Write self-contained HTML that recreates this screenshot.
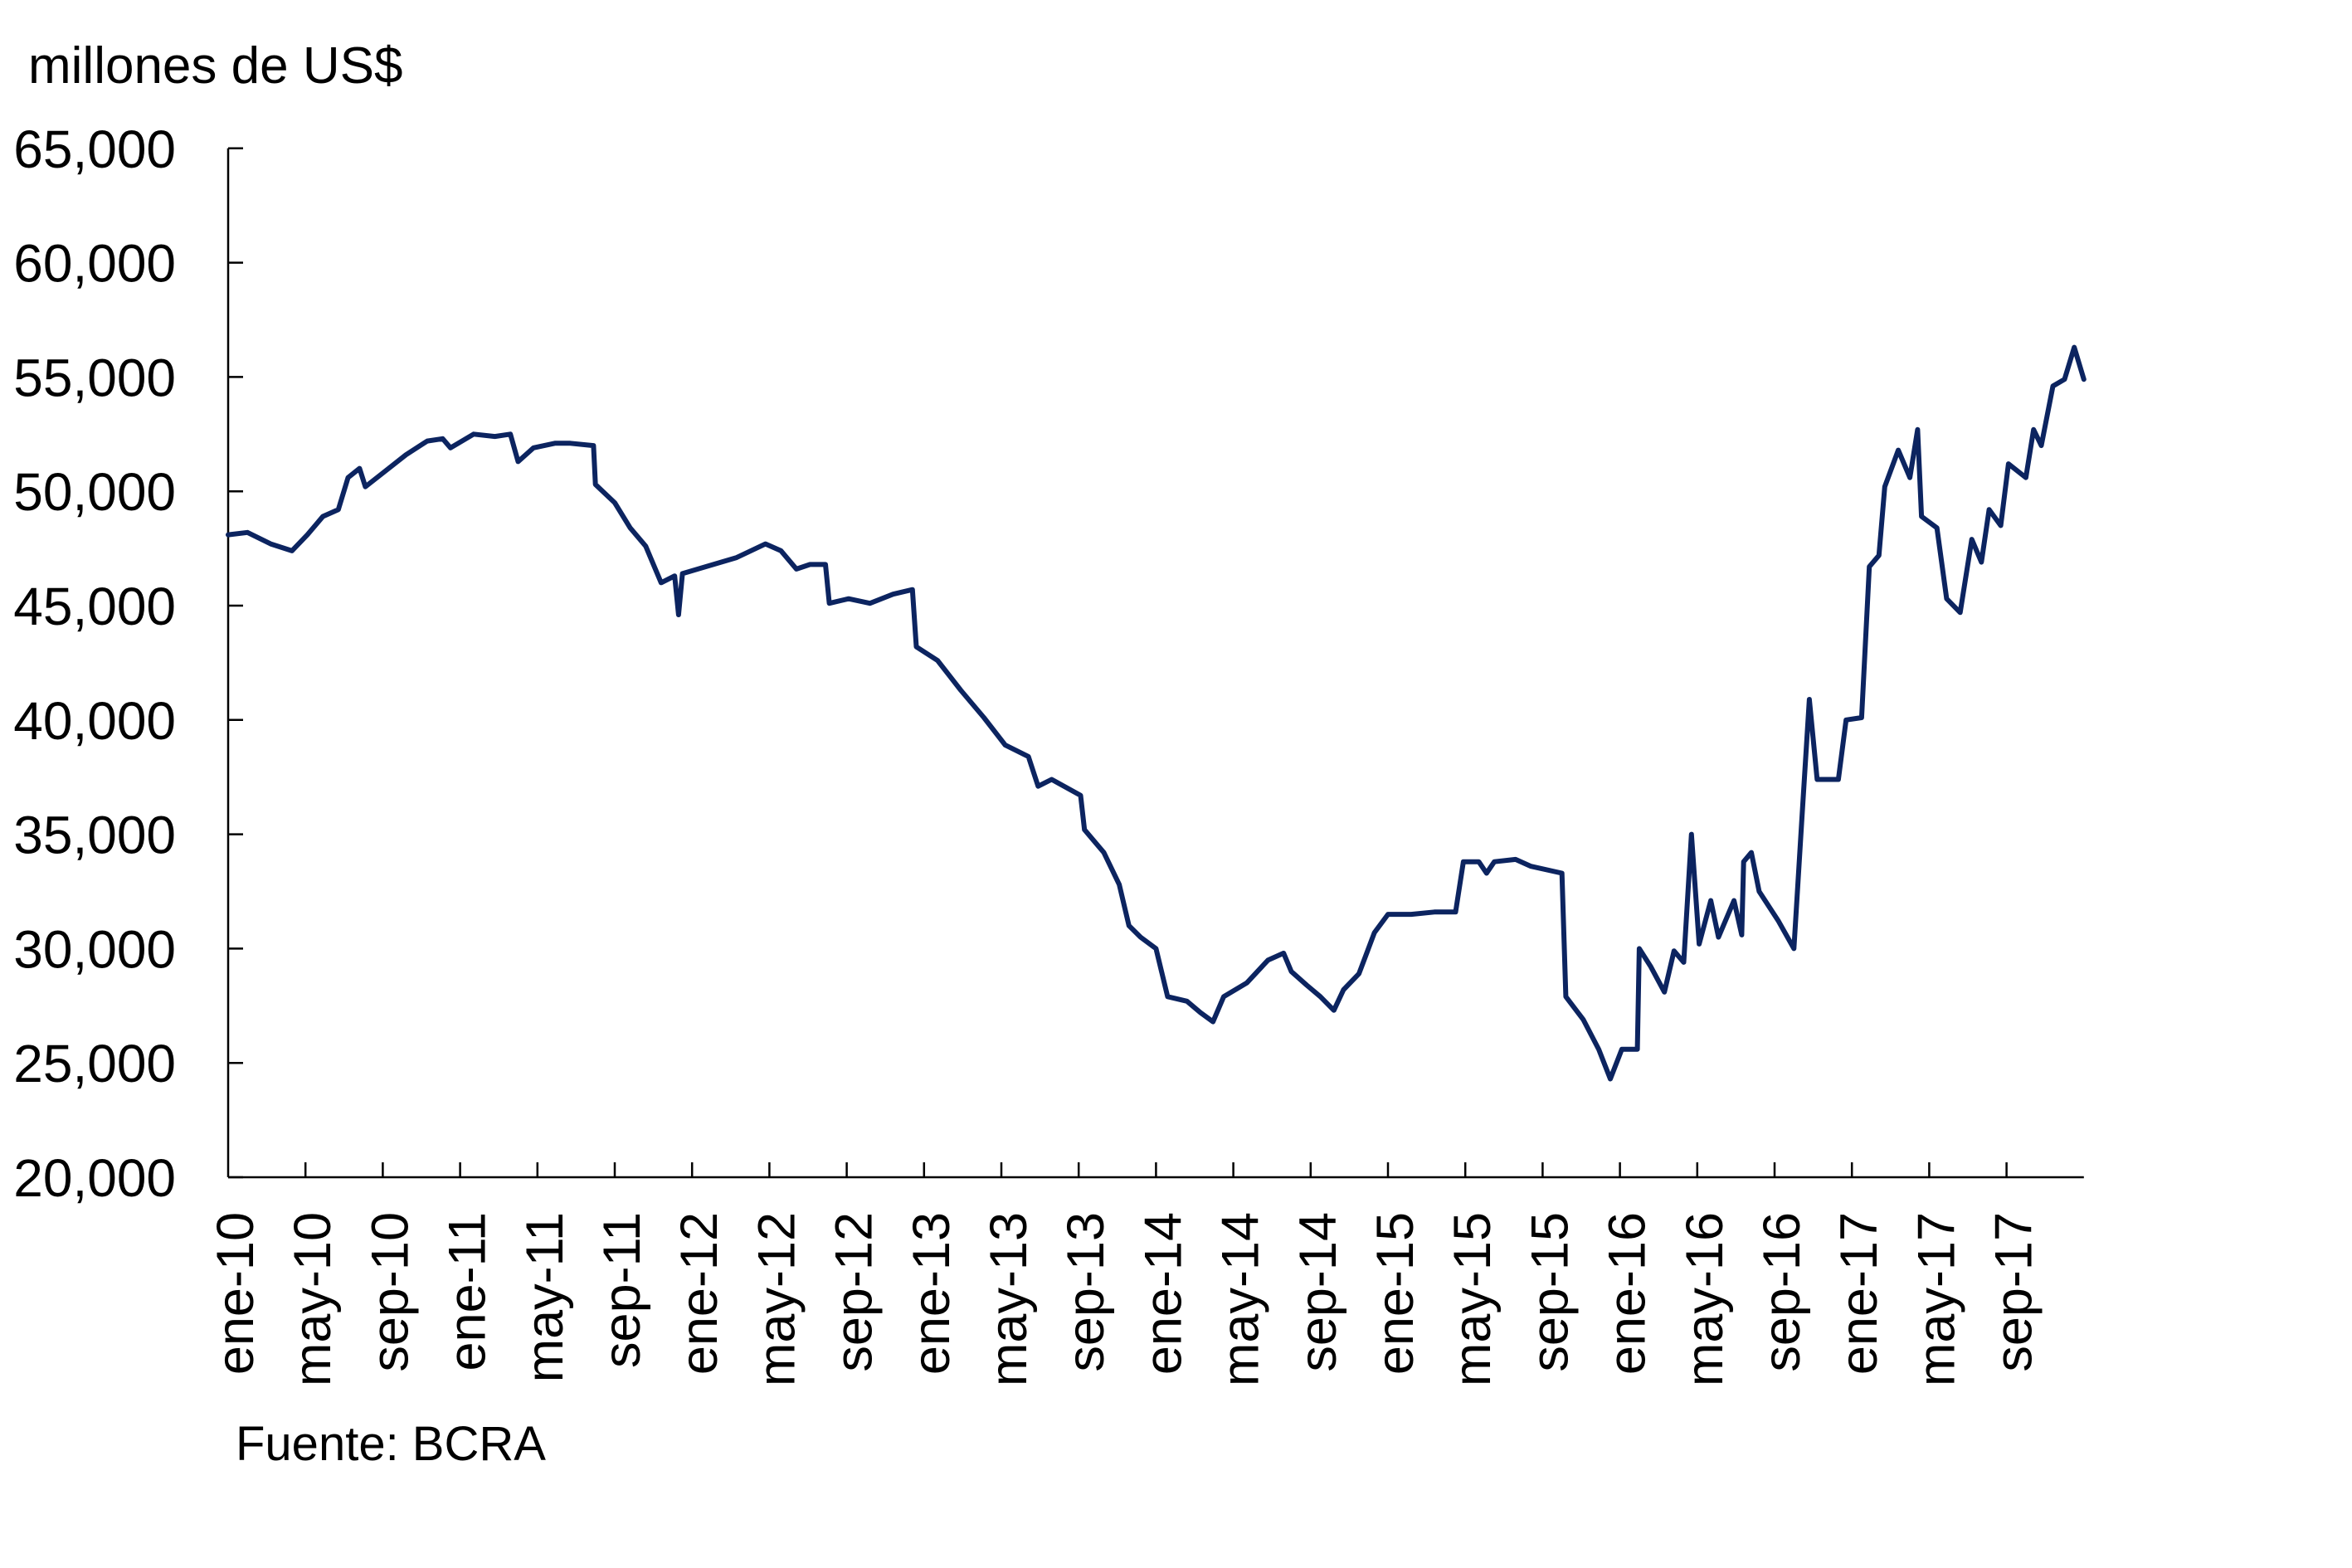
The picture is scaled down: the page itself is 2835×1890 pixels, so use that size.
<!DOCTYPE html>
<html><head><meta charset="utf-8"><style>
html,body{margin:0;padding:0;background:#fff;}
svg{display:block;font-family:"Liberation Sans",sans-serif;}
</style></head><body>
<svg id="chart" width="2835" height="1890" viewBox="0 0 2835 1890" xmlns="http://www.w3.org/2000/svg">
<rect width="2835" height="1890" fill="#fff"/>
<text x="34" y="100" font-size="62" fill="#000">millones de US$</text>
<text x="284" y="1760" font-size="58" fill="#000">Fuente: BCRA</text>
<g id="axes"></g>
<g id="series"></g>
</svg>
<script>
const yTicks = [20000,25000,30000,35000,40000,45000,50000,55000,60000,65000];
const yTickLabels = ["20,000","25,000","30,000","35,000","40,000","45,000","50,000","55,000","60,000","65,000"];
const xTickMonths = [0,4,8,12,16,20,24,28,32,36,40,44,48,52,56,60,64,68,72,76,80,84,88,92];
const xTickLabels = ["ene-10","may-10","sep-10","ene-11","may-11","sep-11","ene-12","may-12","sep-12","ene-13","may-13","sep-13","ene-14","may-14","sep-14","ene-15","may-15","sep-15","ene-16","may-16","sep-16","ene-17","may-17","sep-17"];
const months = [0,1.0,2.2,3.3,4.1,4.9,5.7,6.2,6.8,7.1,8.0,9.2,10.3,11.1,11.5,12.7,13.8,14.6,15.0,15.8,16.9,17.7,18.9,19.0,20.0,20.8,21.6,22.4,23.1,23.3,23.5,24.7,26.3,27.8,28.6,29.4,30.1,30.9,31.1,32.1,33.2,34.4,35.4,35.6,36.7,37.9,39.1,40.2,41.4,41.9,42.6,44.1,44.3,45.3,46.1,46.6,47.2,48.0,48.6,49.6,50.3,50.95,51.5,52.7,53.8,54.6,55.0,55.8,56.5,57.2,57.7,58.5,59.3,60.0,61.2,62.4,63.5,63.9,64.7,65.1,65.5,66.6,67.4,69.0,69.2,70.1,70.9,71.5,72.1,72.9,73.0,73.6,74.3,74.8,75.3,75.7,76.1,76.7,77.1,77.9,78.3,78.4,78.8,79.2,80.2,81.0,81.4,81.8,82.2,83.3,83.7,84.5,84.9,85.4,85.7,86.4,87.0,87.4,87.6,88.4,88.9,89.6,90.2,90.7,91.1,91.7,92.1,93.0,93.4,93.8,94.4,95.0,95.5,96.0];
const reserves = [48100,48200,47700,47400,48100,48900,49200,50600,51000,50200,50800,51600,52200,52300,51900,52500,52400,52500,51300,51900,52100,52100,52000,50300,49500,48400,47600,46000,46300,44600,46400,46700,47100,47700,47400,46600,46800,46800,45100,45300,45100,45500,45700,43200,42600,41300,40100,38900,38400,37100,37400,36700,35200,34200,32800,31000,30500,30000,27900,27700,27200,26800,27900,28500,29500,29800,29000,28400,27900,27300,28200,28900,30700,31500,31500,31600,31600,33800,33800,33300,33800,33900,33600,33300,27900,26900,25600,24300,25600,25600,30000,29200,28100,29900,29400,35000,30200,32100,30500,32100,30600,33800,34200,32500,31200,30000,35500,40900,37400,37400,40000,40100,46700,47200,50200,51800,50600,52700,48900,48400,45300,44700,47900,46900,49200,48500,51200,50600,52700,52000,54600,54900,56300,54900];

const NS = "http://www.w3.org/2000/svg";
const X0 = 275, PX_PER_MONTH = 23.3, Y0 = 1419, PX_PER_5000 = 137.8;
function xScale(m){ return X0 + m*PX_PER_MONTH; }
function yScale(v){ return Y0 - (v-20000)/5000*PX_PER_5000; }
function mk(tag, attrs, parent){ const e=document.createElementNS(NS,tag); for(const k in attrs) e.setAttribute(k,attrs[k]); parent.appendChild(e); return e; }

const axes = document.getElementById('axes');
const yAxis = mk('line',{x1:X0,y1:yScale(65000),x2:X0,y2:Y0,stroke:'#000','stroke-width':2.5},axes);


const xAxis = mk('line',{x1:X0,y1:Y0,x2:xScale(96),y2:Y0,stroke:'#000','stroke-width':2.5},axes);



yTicks.forEach((v,i)=>{
  const y=yScale(v);
  const t=mk('line',{x1:X0,y1:y,x2:X0+18,y2:y,stroke:'#000','stroke-width':2.5},axes);
  
  
  const l=mk('text',{x:212,y:y+23,'text-anchor':'end','font-size':64,fill:'#000'},axes);
  l.textContent=yTickLabels[i];
  
  
});
xTickMonths.forEach((m,i)=>{
  const x=xScale(m);
  if(i>0){
    const t=mk('line',{x1:x,y1:Y0,x2:x,y2:Y0-18,stroke:'#000','stroke-width':2.5},axes);
    
    
  }
  const l=mk('text',{x:0,y:0,'text-anchor':'end','font-size':63,fill:'#000',transform:`translate(${x+30},${Y0+42}) rotate(-90)`},axes);
  l.textContent=xTickLabels[i];
  
  
});

const series=document.getElementById('series');
const d=months.map((m,i)=>(i?'L':'M')+xScale(m).toFixed(1)+','+yScale(reserves[i]).toFixed(1)).join(' ');
const line=mk('path',{d:d,fill:'none',stroke:'#0c2460','stroke-width':6,'stroke-linejoin':'round','stroke-linecap':'round'},series);


</script>
</body></html>
